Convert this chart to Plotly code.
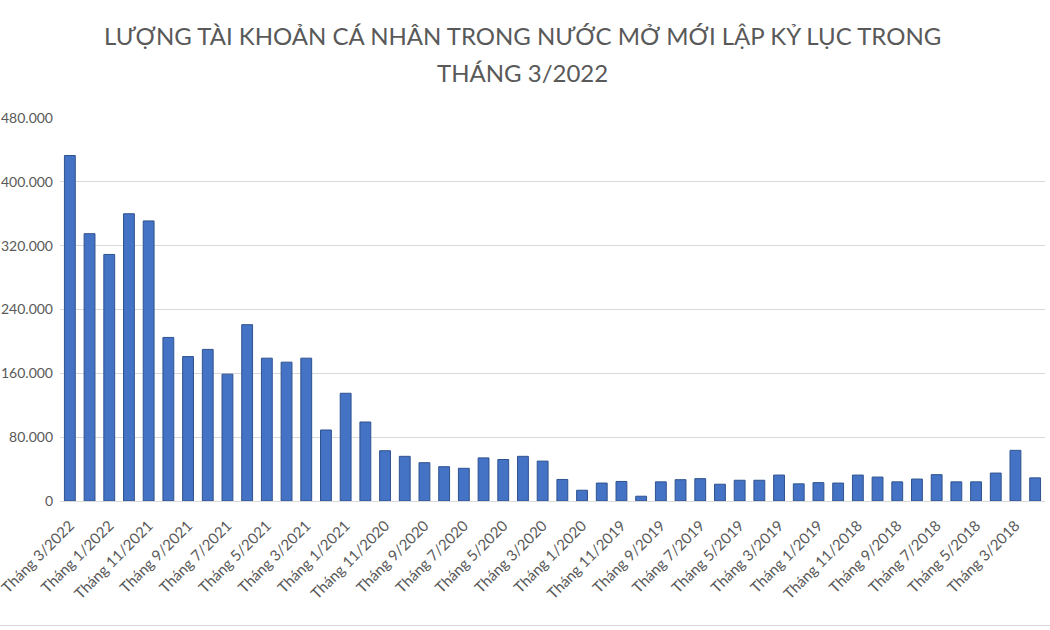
import plotly.graph_objects as go

months = [
    "Tháng 3/2022", "Tháng 2/2022", "Tháng 1/2022",
    "Tháng 12/2021", "Tháng 11/2021", "Tháng 10/2021", "Tháng 9/2021", "Tháng 8/2021", "Tháng 7/2021",
    "Tháng 6/2021", "Tháng 5/2021", "Tháng 4/2021", "Tháng 3/2021", "Tháng 2/2021", "Tháng 1/2021",
    "Tháng 12/2020", "Tháng 11/2020", "Tháng 10/2020", "Tháng 9/2020", "Tháng 8/2020", "Tháng 7/2020",
    "Tháng 6/2020", "Tháng 5/2020", "Tháng 4/2020", "Tháng 3/2020", "Tháng 2/2020", "Tháng 1/2020",
    "Tháng 12/2019", "Tháng 11/2019", "Tháng 10/2019", "Tháng 9/2019", "Tháng 8/2019", "Tháng 7/2019",
    "Tháng 6/2019", "Tháng 5/2019", "Tháng 4/2019", "Tháng 3/2019", "Tháng 2/2019", "Tháng 1/2019",
    "Tháng 12/2018", "Tháng 11/2018", "Tháng 10/2018", "Tháng 9/2018", "Tháng 8/2018", "Tháng 7/2018",
    "Tháng 6/2018", "Tháng 5/2018", "Tháng 4/2018", "Tháng 3/2018", "Tháng 2/2018",
]

new_accounts = [
    433000, 335000, 309000,
    360000, 351000, 205000, 181000, 190000, 159000,
    221000, 179000, 174000, 179000, 89000, 135000,
    99000, 63000, 56000, 48000, 43000, 41000,
    54000, 52000, 56000, 50000, 27000, 13500,
    22500, 24500, 6000, 24000, 26700, 28000,
    21000, 26000, 26000, 32500, 21500, 23000,
    22500, 32500, 30000, 24000, 27500, 33000,
    24000, 24000, 35000, 63500, 29000,
]

shown_month_labels = [
    "Tháng 3/2022", "Tháng 1/2022", "Tháng 11/2021", "Tháng 9/2021", "Tháng 7/2021",
    "Tháng 5/2021", "Tháng 3/2021", "Tháng 1/2021", "Tháng 11/2020", "Tháng 9/2020",
    "Tháng 7/2020", "Tháng 5/2020", "Tháng 3/2020", "Tháng 1/2020", "Tháng 11/2019",
    "Tháng 9/2019", "Tháng 7/2019", "Tháng 5/2019", "Tháng 3/2019", "Tháng 1/2019",
    "Tháng 11/2018", "Tháng 9/2018", "Tháng 7/2018", "Tháng 5/2018", "Tháng 3/2018",
]

y_tick_values = [0, 80000, 160000, 240000, 320000, 400000, 480000]
y_tick_labels = ["0", "80.000", "160.000", "240.000", "320.000", "400.000", "480.000"]

title_line1 = "LƯỢNG TÀI KHOẢN CÁ NHÂN TRONG NƯỚC MỞ MỚI LẬP KỶ LỤC TRONG"
title_line2 = "THÁNG 3/2022"

FONT = "Lato, Liberation Sans, Arial, sans-serif"
GREY = "#595959"

fig = go.Figure()
fig.add_trace(go.Bar(
    x=months,
    y=new_accounts,
    marker=dict(color="#4472C4", line=dict(color="#2F528F", width=1)),
    hoverinfo="x+y",
))

fig.update_layout(
    width=1050,
    height=630,
    margin=dict(l=60, r=5, t=118, b=129),
    paper_bgcolor="white",
    plot_bgcolor="white",
    bargap=0.45,
    showlegend=False,
    font=dict(family=FONT, color=GREY),
    xaxis=dict(
        type="category",
        tickmode="array",
        tickvals=shown_month_labels,
        ticktext=shown_month_labels,
        tickangle=-45,
        tickfont=dict(size=15, color=GREY, family=FONT),
        showgrid=False,
        showline=True,
        linecolor="#D9D9D9",
        linewidth=1,
        ticks="",
        ticklabelstandoff=9,
        automargin=False,
    ),
    yaxis=dict(
        range=[0, 480000],
        tickmode="array",
        tickvals=y_tick_values,
        ticktext=y_tick_labels,
        tickfont=dict(size=14, color=GREY, family=FONT),
        showgrid=True,
        gridcolor="#D9D9D9",
        gridwidth=1,
        zeroline=False,
        showline=False,
        ticks="",
        ticklabelstandoff=6,
        automargin=False,
    ),
    annotations=[
        dict(text=title_line1, xref="paper", yref="paper", x=0.47, y=1.2167,
             xanchor="center", yanchor="middle", showarrow=False,
             font=dict(size=24, color=GREY, family=FONT)),
        dict(text=title_line2, xref="paper", yref="paper", x=0.47, y=1.1201,
             xanchor="center", yanchor="middle", showarrow=False,
             font=dict(size=24, color=GREY, family=FONT)),
    ],
    shapes=[
        dict(type="line", xref="paper", yref="paper", x0=-0.1, x1=1.1,
             y0=-0.325, y1=-0.325, line=dict(color="#D9D9D9", width=1)),
    ],
)

fig.write_html("out.html")
